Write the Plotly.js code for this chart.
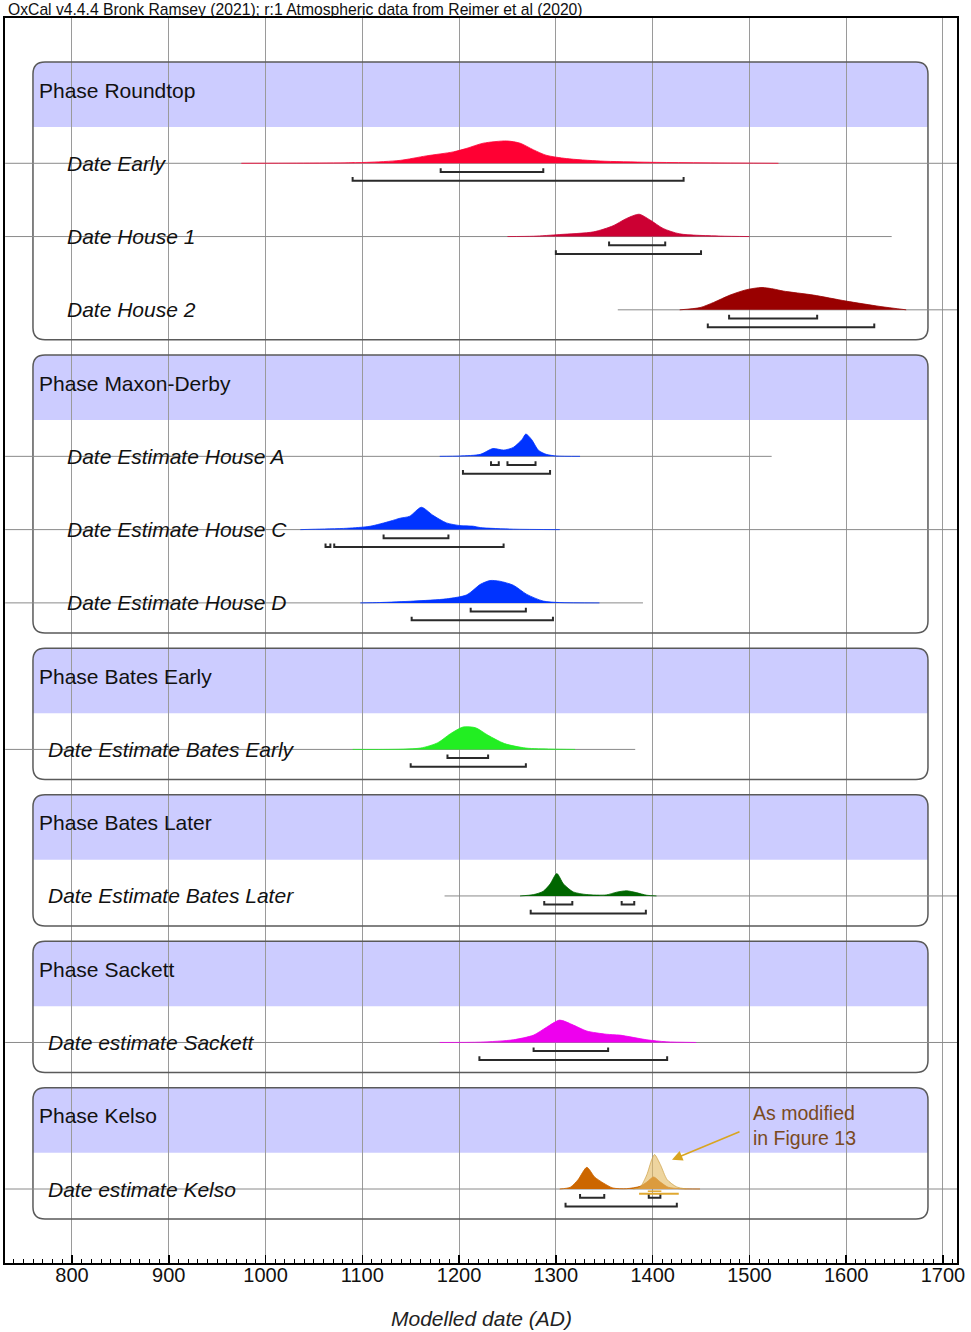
<!DOCTYPE html>
<html><head><meta charset="utf-8">
<script src="https://cdn.plot.ly/plotly-3.0.1.min.js"></script>
<style>html,body{margin:0;padding:0;background:#fff}#chart{width:971px;height:1332px}</style>
</head><body><div id="chart"></div>
<script>
// ---------- DATA ----------
const titleText = "OxCal v4.4.4 Bronk Ramsey (2021); r:1 Atmospheric data from Reimer et al (2020)";
const axisTitle = "Modelled date (AD)";
const phaseNames = ["Phase Roundtop","Phase Maxon-Derby","Phase Bates Early","Phase Bates Later","Phase Sackett","Phase Kelso"];
const phaseRows  = [0,4,8,10,12,14];
const phaseLast  = [3,7,9,11,13,15];

const dateNames = ["Date Early","Date House 1","Date House 2","Date Estimate House A","Date Estimate House C",
  "Date Estimate House D","Date Estimate Bates Early","Date Estimate Bates Later","Date estimate Sackett","Date estimate Kelso"];
const dateRows  = [1,2,3,5,6,7,9,11,13,15];
const dateIndent = [true,true,true,true,true,true,false,false,false,false];
const dateColors = ["#ff0033","#cc0033","#990000","#0033ff","#0033ff","#0033ff","#22ee22","#006600","#ee00ee","#cc6600"];

// probability curves: years and relative heights
const earlyX = [975,1050,1104,1139,1166,1194,1208,1225,1249,1263,1277,1290,1311,1346,1397,1530];
const earlyH = [0,0.01,0.04,0.13,0.33,0.51,0.67,0.9,1.0,0.9,0.6,0.36,0.21,0.1,0.045,0];
const house1X = [1250,1277,1304,1339,1359,1373,1386,1397,1411,1428,1470,1500];
const house1H = [0,0.015,0.09,0.21,0.48,0.81,1.0,0.75,0.36,0.12,0.02,0];
const house2X = [1428,1449,1463,1480,1497,1513,1525,1535,1566,1600,1635,1662];
const house2H = [0,0.1,0.33,0.66,0.9,1.0,0.93,0.84,0.66,0.39,0.15,0];
const houseAX = [1180,1201,1222,1235,1246,1256,1265,1269,1275,1282,1290,1301,1325];
const houseAH = [0,0.015,0.09,0.35,0.28,0.4,0.75,1.0,0.75,0.27,0.09,0.015,0];
const houseCX = [1036,1049,1084,1108,1129,1139,1149,1161,1173,1187,1201,1215,1222,1256,1304];
const houseCH = [0,0.015,0.06,0.15,0.38,0.51,0.6,1.0,0.64,0.3,0.18,0.15,0.09,0.02,0];
const houseDX = [1098,1118,1153,1187,1208,1222,1232,1242,1256,1270,1287,1304,1345];
const houseDH = [0,0.015,0.08,0.18,0.36,0.83,1.0,0.97,0.79,0.38,0.08,0.015,0];
const batesEarlyX = [1090,1160,1178,1191,1204,1217,1230,1247,1269,1295,1320];
const batesEarlyH = [0,0.06,0.3,0.7,1.0,0.97,0.63,0.26,0.06,0.015,0];
const batesLaterX = [1263,1277,1287,1294,1301,1308,1318,1332,1352,1363,1373,1383,1394,1404];
const batesLaterH = [0,0.06,0.21,0.53,1.0,0.53,0.18,0.06,0.045,0.17,0.23,0.15,0.03,0];
const sackettX = [1180,1222,1256,1277,1290,1304,1318,1332,1352,1366,1394,1414,1445];
const sackettH = [0,0.015,0.12,0.33,0.67,1.0,0.78,0.51,0.37,0.33,0.12,0.03,0];
const kelsoX = [1304,1315,1323,1332,1340,1349,1359,1373,1387,1394,1401,1408,1416,1428,1449];
const kelsoH = [0,0.08,0.42,0.97,0.54,0.27,0.045,0.015,0.12,0.31,0.54,0.31,0.08,0.015,0];
const kelsoModX = [1380,1387,1394,1399,1402,1408,1415,1425,1435];
const kelsoModH = [0,0.08,0.64,1.31,1.54,1.09,0.42,0.09,0];

// 68.3% and 95.4% ranges
const range68 = [[[1181,1287]],[[1355,1413]],[[1479,1570]],[[1233,1241],[1250,1279]],[[1122,1189]],
  [[1212,1269]],[[1188,1230]],[[1288,1317],[1368,1381]],[[1277,1354]],[[1325,1350],[1396,1408]]];
const range95 = [[[1090,1432]],[[1300,1450]],[[1457,1629]],[[1204,1294]],[[1062,1067],[1071,1246]],
  [[1151,1297]],[[1150,1269]],[[1274,1393]],[[1221,1415]],[[1310,1425]]];
const kelsoModRange = [[1386,1427]];
const kelsoModRange68 = [[1395,1409]];

// extents of the baseline drawn for each date
const baseFrom = [731,731,1364,731,731,731,731,1185,731,731];
const baseTo   = [1714.5,1647,1714.5,1523,1714.5,1390,1382,1714.5,1714.5,1714.5];

const noteText = "As modified<br>in Figure 13";
const tickYears = [800,900,1000,1100,1200,1300,1400,1500,1600,1700];

// ---------- BUILD ----------
const XMIN = 730.8, XMAX = 1714.5, YTOP = -0.983, YBOT = 16.01;
const HSCALE = 0.305;
const curvesX = [earlyX,house1X,house2X,houseAX,houseCX,houseDX,batesEarlyX,batesLaterX,sackettX,kelsoX];
const curvesH = [earlyH,house1H,house2H,houseAH,houseCH,houseDH,batesEarlyH,batesLaterH,sackettH,kelsoH];
const FONT = "Liberation Sans, Arial, sans-serif";

const traces = [];
function curveTrace(xs, hs, row, fill, line){
  return {x: xs.slice(), y: hs.map(h => row - h*HSCALE), type:'scatter', mode:'lines',
    fill:'toself', fillcolor: fill, line:{color: line, width:0.8, shape:'spline', smoothing:0.7},
    hoverinfo:'skip', showlegend:false};
}
dateRows.forEach((r,i)=>{
  traces.push({x:[baseFrom[i],baseTo[i]], y:[r,r], type:'scatter', mode:'lines',
    line:{color:'#8a8a8a', width:1}, hoverinfo:'skip', showlegend:false});
});
dateRows.forEach((r,i)=>{ traces.push(curveTrace(curvesX[i], curvesH[i], r, dateColors[i], dateColors[i])); });
traces.push(curveTrace(kelsoModX, kelsoModH, 15, 'rgba(228,188,100,0.62)', 'rgba(205,160,70,0.9)'));

function bracketTrace(ranges, level, color, width, tick){
  const xs=[], ys=[];
  ranges.forEach(([a,b])=>{ xs.push(a,a,b,b,null); ys.push(level-tick,level,level,level-tick,null); });
  return {x:xs, y:ys, type:'scatter', mode:'lines', line:{color:color, width:width},
    hoverinfo:'skip', showlegend:false};
}
dateRows.forEach((r,i)=>{
  traces.push(bracketTrace(range68[i], r+0.118, '#2a2a2a', 2, 0.05));
  traces.push(bracketTrace(range95[i], r+0.238, '#2a2a2a', 2, 0.05));
});
traces.push(bracketTrace(kelsoModRange, 15+0.065, '#e0a830', 2, 0));
traces.push(bracketTrace(kelsoModRange68, 15+0.03, '#e0a830', 1.5, 0));

const BX0 = 759.7, BX1 = 1684.5, RX = 12.4, RY = 0.164;
function boxPath(x0,x1,y0,y1,roundBottom){
  let p = `M ${x0+RX},${y0} L ${x1-RX},${y0} Q ${x1},${y0} ${x1},${y0+RY} `;
  if(roundBottom){
    p += `L ${x1},${y1-RY} Q ${x1},${y1} ${x1-RX},${y1} L ${x0+RX},${y1} Q ${x0},${y1} ${x0},${y1-RY} `;
  } else {
    p += `L ${x1},${y1} L ${x0},${y1} `;
  }
  p += `L ${x0},${y0+RY} Q ${x0},${y0} ${x0+RX},${y0} Z`;
  return p;
}
const shapes = [];
phaseRows.forEach((r,i)=>{
  const top = r-0.382, hb = r+0.505, bot = phaseLast[i]+0.41;
  shapes.push({type:'path', xref:'x', yref:'y', path: boxPath(BX0,BX1,top,hb,false),
    fillcolor:'#ccccff', line:{width:0}, layer:'below'});
  shapes.push({type:'path', xref:'x', yref:'y', path: boxPath(BX0,BX1,top,bot,true),
    fillcolor:'rgba(0,0,0,0)', line:{color:'#5a5a5a', width:1.5}, layer:'between'});
});

const annotations = [];
phaseRows.forEach((r,i)=>{
  annotations.push({x:764, y:r, xref:'x', yref:'y', xanchor:'left', yanchor:'middle', showarrow:false,
    text: phaseNames[i], font:{family:FONT, size:21, color:'#111'}});
});
dateRows.forEach((r,i)=>{
  annotations.push({x: dateIndent[i] ? 792.8 : 773.2, y:r, xref:'x', yref:'y', xanchor:'left', yanchor:'middle',
    showarrow:false, text:'<i>'+dateNames[i]+'</i>', font:{family:FONT, size:21, color:'#111'}});
});
annotations.push({x:1420, y:14.60, xref:'x', yref:'y', ax:1491.3, ay:14.21, axref:'x', ayref:'y',
  showarrow:true, arrowhead:2, arrowsize:1.3, arrowwidth:1.6, arrowcolor:'#d9a520', text:''});
annotations.push({x:1502, y:14.13, xref:'x', yref:'y', xanchor:'left', yanchor:'middle', align:'left',
  showarrow:false, text: noteText, font:{family:FONT, size:19.5, color:'#7a4a1e'}});
annotations.push({x:0.001, y:1.0066, xref:'paper', yref:'paper', xanchor:'left', yanchor:'middle',
  showarrow:false, text:titleText, font:{family:FONT, size:15.7, color:'#111'}});
annotations.push({x:0.5, y:-0.0442, xref:'paper', yref:'paper', xanchor:'center', yanchor:'middle',
  showarrow:false, text:'<i>'+axisTitle+'</i>', font:{family:FONT, size:21, color:'#222'}});

const layout = {
  width:971, height:1332,
  margin:{l:5, r:14, t:18, b:69, pad:0},
  paper_bgcolor:'#ffffff', plot_bgcolor:'#ffffff',
  showlegend:false, hovermode:false,
  font:{family:FONT, color:'#111'},
  xaxis:{range:[XMIN,XMAX], tickmode:'array', tickvals:tickYears, ticktext:tickYears.map(String),
    ticks:'inside', ticklen:8, tickwidth:1.5, tickcolor:'#000', ticklabelstandoff:-7,
    minor:{tickmode:'linear', tick0:0, dtick:10, ticks:'inside', ticklen:4, tickwidth:1, tickcolor:'#000', showgrid:false},
    showgrid:true, gridcolor:'#9a9a9a', gridwidth:1, zeroline:false,
    showline:true, linecolor:'#000', linewidth:2, mirror:true,
    tickfont:{family:FONT, size:20, color:'#111'}, fixedrange:true},
  yaxis:{range:[YBOT,YTOP], showgrid:false, zeroline:false, showticklabels:false, ticks:'',
    showline:true, linecolor:'#000', linewidth:2, mirror:true, fixedrange:true},
  shapes: shapes,
  annotations: annotations
};
Plotly.newPlot('chart', traces, layout, {staticPlot:true, displayModeBar:false});
</script>
</body></html>
